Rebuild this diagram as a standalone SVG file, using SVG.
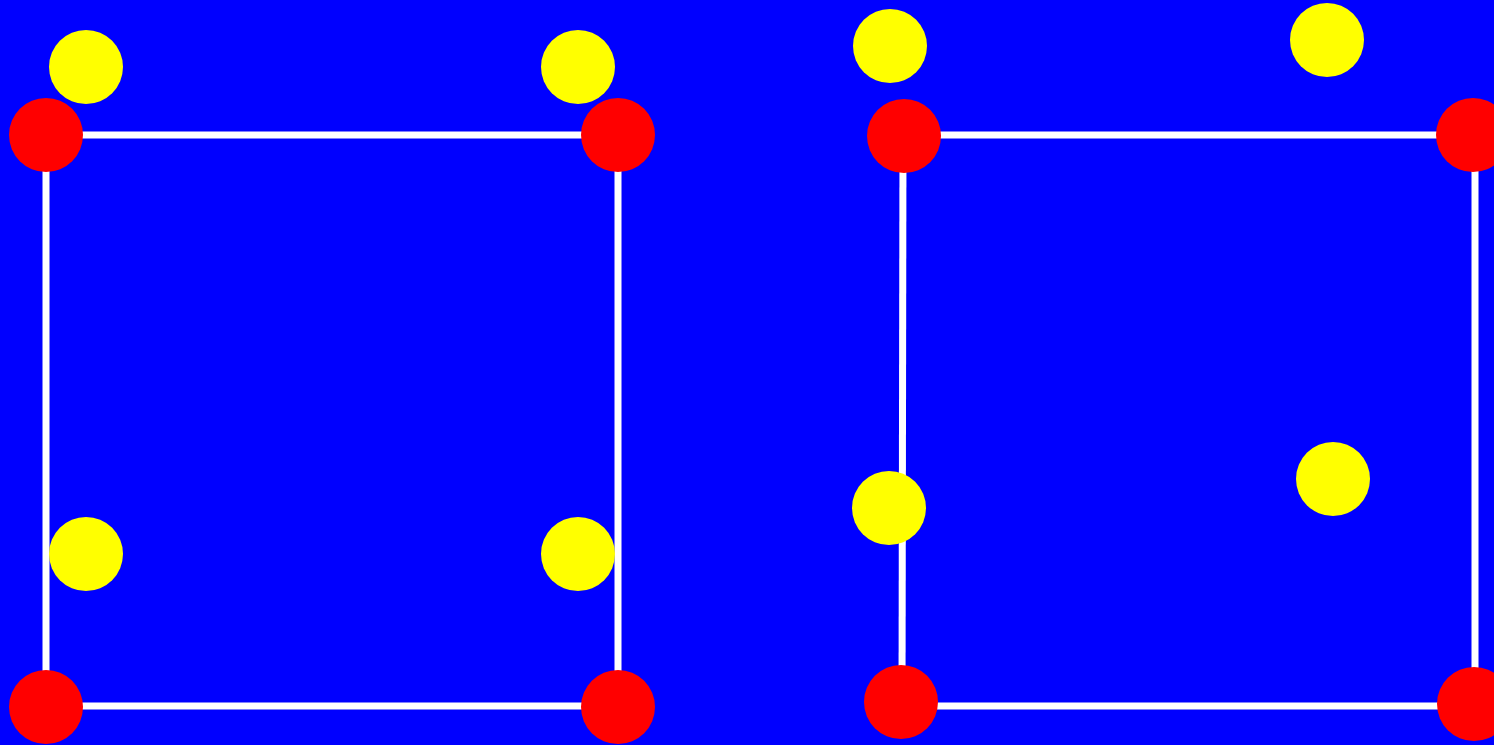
<svg xmlns="http://www.w3.org/2000/svg" width="1494" height="745" viewBox="0 0 1494 745">
<style>
.edge{stroke:#ffffff;stroke-width:7;fill:none}
.red{fill:#ff0000}
.yel{fill:#ffff00}
</style>
<rect x="0" y="0" width="1494" height="745" fill="#0000ff"/>
<g id="connectors">
<line class="edge" x1="46" y1="135" x2="618" y2="135"/>
<line class="edge" x1="46" y1="706" x2="618" y2="706"/>
<line class="edge" x1="46" y1="135" x2="46" y2="706"/>
<line class="edge" x1="618" y1="135" x2="618" y2="706"/>
<line class="edge" x1="903" y1="135" x2="1474" y2="135"/>
<line class="edge" x1="902" y1="706" x2="1474" y2="706"/>
<line class="edge" x1="903" y1="135" x2="902" y2="706"/>
<line class="edge" x1="1475" y1="135" x2="1475" y2="706"/>
</g>
<g id="y1"><circle class="yel" cx="86" cy="67" r="37"/></g>
<g id="y2"><circle class="yel" cx="578" cy="67" r="37"/></g>
<g id="y3"><circle class="yel" cx="86" cy="554" r="37"/></g>
<g id="y4"><circle class="yel" cx="578" cy="554" r="37"/></g>
<g id="r1"><circle class="red" cx="46" cy="135" r="37"/></g>
<g id="r2"><circle class="red" cx="618" cy="135" r="37"/></g>
<g id="r3"><circle class="red" cx="46" cy="707" r="37"/></g>
<g id="r4"><circle class="red" cx="618" cy="707" r="37"/></g>
<g id="y5"><circle class="yel" cx="890" cy="46" r="37"/></g>
<g id="y6"><circle class="yel" cx="1327" cy="40" r="37"/></g>
<g id="y7"><circle class="yel" cx="889" cy="508" r="37"/></g>
<g id="y8"><circle class="yel" cx="1333" cy="479" r="37"/></g>
<g id="r5"><circle class="red" cx="904" cy="136" r="37"/></g>
<g id="r6"><circle class="red" cx="1473" cy="135" r="37"/></g>
<g id="r7"><circle class="red" cx="901" cy="702" r="37"/></g>
<g id="r8"><circle class="red" cx="1474" cy="704" r="37"/></g>
</svg>
